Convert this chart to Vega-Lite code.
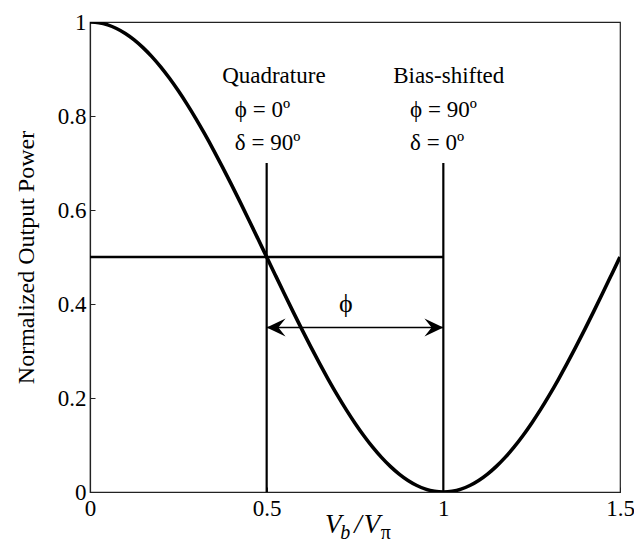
{
  "$schema": "https://vega.github.io/schema/vega-lite/v6.json",
  "width": 530,
  "height": 470,
  "autosize": "none",
  "padding": {"left": 90, "top": 22, "right": 14, "bottom": 54},
  "background": "white",
  "config": {
    "view": {"stroke": "#222", "strokeWidth": 1.2},
    "font": "Liberation Serif",
    "text": {"font": "Liberation Serif", "color": "black"}
  },
  "datasets": {
    "curve": [
      {"x": 0, "y": 1}, {"x": 0.025, "y": 0.99846}, {"x": 0.05, "y": 0.99384}, {"x": 0.075, "y": 0.98618},
      {"x": 0.1, "y": 0.97553}, {"x": 0.125, "y": 0.96194}, {"x": 0.15, "y": 0.9455}, {"x": 0.175, "y": 0.92632},
      {"x": 0.2, "y": 0.90451}, {"x": 0.225, "y": 0.8802}, {"x": 0.25, "y": 0.85355}, {"x": 0.275, "y": 0.82472},
      {"x": 0.3, "y": 0.79389}, {"x": 0.325, "y": 0.76125}, {"x": 0.35, "y": 0.727}, {"x": 0.375, "y": 0.69134},
      {"x": 0.4, "y": 0.65451}, {"x": 0.425, "y": 0.61672}, {"x": 0.45, "y": 0.57822}, {"x": 0.475, "y": 0.53923},
      {"x": 0.5, "y": 0.5}, {"x": 0.525, "y": 0.46077}, {"x": 0.55, "y": 0.42178}, {"x": 0.575, "y": 0.38328},
      {"x": 0.6, "y": 0.34549}, {"x": 0.625, "y": 0.30866}, {"x": 0.65, "y": 0.273}, {"x": 0.675, "y": 0.23875},
      {"x": 0.7, "y": 0.20611}, {"x": 0.725, "y": 0.17528}, {"x": 0.75, "y": 0.14645}, {"x": 0.775, "y": 0.1198},
      {"x": 0.8, "y": 0.09549}, {"x": 0.825, "y": 0.07368}, {"x": 0.85, "y": 0.0545}, {"x": 0.875, "y": 0.03806},
      {"x": 0.9, "y": 0.02447}, {"x": 0.925, "y": 0.01382}, {"x": 0.95, "y": 0.00616}, {"x": 0.975, "y": 0.00154},
      {"x": 1, "y": 0}, {"x": 1.025, "y": 0.00154}, {"x": 1.05, "y": 0.00616}, {"x": 1.075, "y": 0.01382},
      {"x": 1.1, "y": 0.02447}, {"x": 1.125, "y": 0.03806}, {"x": 1.15, "y": 0.0545}, {"x": 1.175, "y": 0.07368},
      {"x": 1.2, "y": 0.09549}, {"x": 1.225, "y": 0.1198}, {"x": 1.25, "y": 0.14645}, {"x": 1.275, "y": 0.17528},
      {"x": 1.3, "y": 0.20611}, {"x": 1.325, "y": 0.23875}, {"x": 1.35, "y": 0.273}, {"x": 1.375, "y": 0.30866},
      {"x": 1.4, "y": 0.34549}, {"x": 1.425, "y": 0.38328}, {"x": 1.45, "y": 0.42178}, {"x": 1.475, "y": 0.46077},
      {"x": 1.5, "y": 0.5}
    ],
    "vlines": [{"x": 0.5, "y": 0, "y2": 0.7}, {"x": 1, "y": 0, "y2": 0.7}],
    "hline": [{"x": 0, "x2": 1, "y": 0.5}],
    "arrow": [{"x": 0.5, "x2": 1, "y": 0.35}],
    "notes": [
      {"t": "Quadrature", "x": 0.374, "y": 0.87},
      {"t": "ϕ = 0º", "x": 0.41, "y": 0.798},
      {"t": "δ = 90º", "x": 0.41, "y": 0.728},
      {"t": "Bias-shifted", "x": 0.858, "y": 0.87},
      {"t": "ϕ = 90º", "x": 0.906, "y": 0.798},
      {"t": "δ = 0º", "x": 0.906, "y": 0.728}
    ],
    "phi": [{"t": "ϕ", "x": 0.724, "y": 0.383}],
    "xtitle": [
      {"t": "V", "x": 0.665, "y": -0.087},
      {"t": "/", "x": 0.748, "y": -0.087},
      {"t": "V", "x": 0.775, "y": -0.087}
    ],
    "xsubit": [
      {"t": "b", "x": 0.708, "y": -0.101}
    ],
    "xsub": [
      {"t": "π", "x": 0.823, "y": -0.101}
    ]
  },
  "encoding": {
    "x": {"type": "quantitative", "scale": {"domain": [0, 1.5], "nice": false, "zero": false}},
    "y": {"type": "quantitative", "scale": {"domain": [0, 1], "nice": false}}
  },
  "layer": [
    {
      "data": {"name": "curve"},
      "mark": {"type": "line", "color": "black", "strokeWidth": 3.6, "interpolate": "monotone", "clip": true},
      "encoding": {
        "x": {"field": "x", "type": "quantitative",
          "axis": {"values": [0, 0.5, 1, 1.5], "format": "~g", "title": null, "tickSize": -5, "tickColor": "#222",
            "domainColor": "#222", "domainWidth": 1.2, "grid": false, "labelFont": "Liberation Serif",
            "labelFontSize": 23, "labelColor": "black", "labelPadding": 10, "labelFlush": false}},
        "y": {"field": "y", "type": "quantitative",
          "axis": {"values": [0, 0.2, 0.4, 0.6, 0.8, 1], "format": "~g", "title": "Normalized Output Power",
            "tickSize": -5, "tickColor": "#222", "domainColor": "#222", "domainWidth": 1.2, "grid": false,
            "labelFont": "Liberation Serif", "labelFontSize": 23, "labelColor": "black", "labelPadding": 9,
            "labelFlush": false, "titleFont": "Liberation Serif", "titleFontSize": 24, "titleFontWeight": "normal",
            "titleColor": "black", "titlePadding": 19}}
      }
    },
    {
      "data": {"name": "vlines"},
      "mark": {"type": "rule", "color": "black", "strokeWidth": 2.2},
      "encoding": {"x": {"field": "x"}, "y": {"field": "y"}, "y2": {"field": "y2"}}
    },
    {
      "data": {"name": "hline"},
      "mark": {"type": "rule", "color": "black", "strokeWidth": 2.6},
      "encoding": {"x": {"field": "x"}, "x2": {"field": "x2"}, "y": {"field": "y"}}
    },
    {
      "data": {"name": "arrow"},
      "mark": {"type": "rule", "color": "black", "strokeWidth": 1.5},
      "encoding": {"x": {"field": "x"}, "x2": {"field": "x2"}, "y": {"field": "y"}}
    },
    {
      "data": {"name": "arrow"},
      "mark": {"type": "point", "filled": true, "color": "black", "opacity": 1, "size": 324,
        "shape": "M0,0 L2.1,-1 L1.3,0 L2.1,1 Z"},
      "encoding": {"x": {"field": "x"}, "y": {"field": "y"}}
    },
    {
      "data": {"name": "arrow"},
      "mark": {"type": "point", "filled": true, "color": "black", "opacity": 1, "size": 324,
        "shape": "M0,0 L-2.1,-1 L-1.3,0 L-2.1,1 Z"},
      "encoding": {"x": {"field": "x2"}, "y": {"field": "y"}}
    },
    {
      "data": {"name": "notes"},
      "mark": {"type": "text", "align": "left", "baseline": "alphabetic", "fontSize": 23, "font": "Liberation Serif", "color": "black"},
      "encoding": {"x": {"field": "x"}, "y": {"field": "y"}, "text": {"field": "t"}}
    },
    {
      "data": {"name": "phi"},
      "mark": {"type": "text", "align": "center", "baseline": "alphabetic", "fontSize": 26, "font": "Liberation Serif", "color": "black"},
      "encoding": {"x": {"field": "x"}, "y": {"field": "y"}, "text": {"field": "t"}}
    },
    {
      "data": {"name": "xtitle"},
      "mark": {"type": "text", "align": "left", "baseline": "alphabetic", "fontSize": 27, "fontStyle": "italic", "font": "Liberation Serif", "color": "black", "clip": false},
      "encoding": {"x": {"field": "x"}, "y": {"field": "y"}, "text": {"field": "t"}}
    },
    {
      "data": {"name": "xsubit"},
      "mark": {"type": "text", "align": "left", "baseline": "alphabetic", "fontSize": 20, "fontStyle": "italic", "font": "Liberation Serif", "color": "black", "clip": false},
      "encoding": {"x": {"field": "x"}, "y": {"field": "y"}, "text": {"field": "t"}}
    },
    {
      "data": {"name": "xsub"},
      "mark": {"type": "text", "align": "left", "baseline": "alphabetic", "fontSize": 20, "font": "Liberation Serif", "color": "black", "clip": false},
      "encoding": {"x": {"field": "x"}, "y": {"field": "y"}, "text": {"field": "t"}}
    }
  ]
}
